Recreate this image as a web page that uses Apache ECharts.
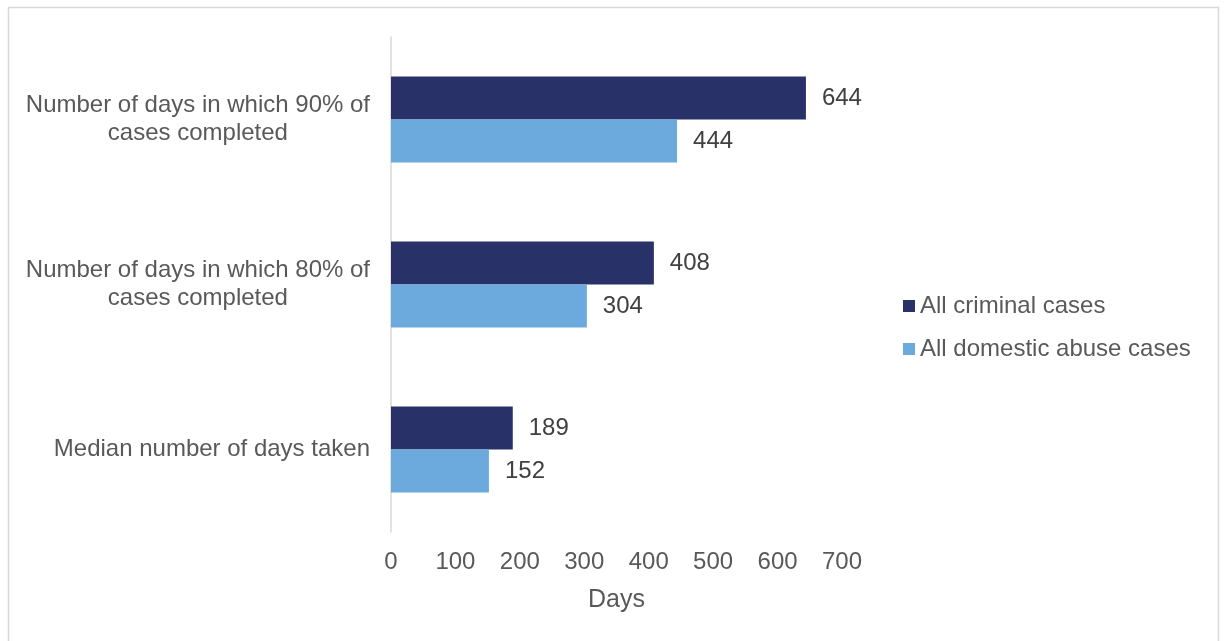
<!DOCTYPE html>
<html>
<head>
<meta charset="utf-8">
<script src="https://cdn.jsdelivr.net/npm/echarts@6/dist/echarts.min.js"></script>
<style>
  html, body { margin: 0; padding: 0; background: #ffffff; }
  #chart { width: 1224px; height: 641px; }
</style>
</head>
<body>
<div id="chart"></div>
<script>
// Case completion times (days), listed top to bottom
const categories = [
  'Number of days in which 90% of\ncases completed',
  'Number of days in which 80% of\ncases completed',
  'Median number of days taken'
];
const seriesNames = ['All criminal cases', 'All domestic abuse cases'];
const allCriminal = [644, 408, 189];
const domesticAbuse = [444, 304, 152];
const xTicks = { min: 0, max: 700, interval: 100 };

const chart = echarts.init(document.getElementById('chart'));

const font = 'Liberation Sans, Arial, sans-serif';
const textGrey = '#595959';

function barSeries(name, data, color) {
  return {
    name: name,
    type: 'bar',
    data: data,
    barGap: '0%',
    barCategoryGap: '48%',
    itemStyle: { color: color },
    label: {
      show: true,
      position: 'right',
      distance: 16,
      color: '#404040',
      fontSize: 24,
      fontFamily: font
    }
  };
}

chart.setOption({
  animation: false,
  textStyle: { fontFamily: font },
  graphic: [{
    type: 'rect',
    shape: { x: 8.5, y: 7.5, width: 1210, height: 700 },
    style: { fill: 'none', stroke: '#d9d9d9', lineWidth: 1.5 },
    silent: true
  }],
  grid: { left: 391, right: 382, top: 37, bottom: 109 },
  legend: {
    orient: 'vertical',
    left: 898,
    top: 289,
    itemWidth: 12,
    itemHeight: 12,
    itemGap: 19,
    icon: 'rect',
    textStyle: { fontSize: 24, color: textGrey, fontFamily: font },
    data: seriesNames
  },
  xAxis: {
    type: 'value',
    min: xTicks.min,
    max: xTicks.max,
    interval: xTicks.interval,
    name: 'Days',
    nameLocation: 'middle',
    nameGap: 56,
    nameTextStyle: { fontSize: 25, color: textGrey, fontFamily: font },
    axisLine: { show: false },
    axisTick: { show: false },
    splitLine: { show: false },
    axisLabel: { fontSize: 24, color: textGrey, margin: 18, fontFamily: font }
  },
  yAxis: {
    type: 'category',
    inverse: true,
    data: categories,
    axisLine: { show: true, lineStyle: { color: '#d9d9d9', width: 1.5 } },
    axisTick: { show: false },
    axisLabel: {
      margin: 21,
      fontSize: 24,
      color: textGrey,
      fontFamily: font,
      lineHeight: 28,
      formatter: function (v) {
        return v.split('\n').map(function (s) { return '{c|' + s + '}'; }).join('\n');
      },
      rich: {
        c: { align: 'center', fontSize: 24, color: textGrey, fontFamily: font, lineHeight: 28 }
      }
    }
  },
  series: [
    barSeries(seriesNames[0], allCriminal, '#283269'),
    barSeries(seriesNames[1], domesticAbuse, '#6CAADD')
  ]
});
</script>
</body>
</html>
